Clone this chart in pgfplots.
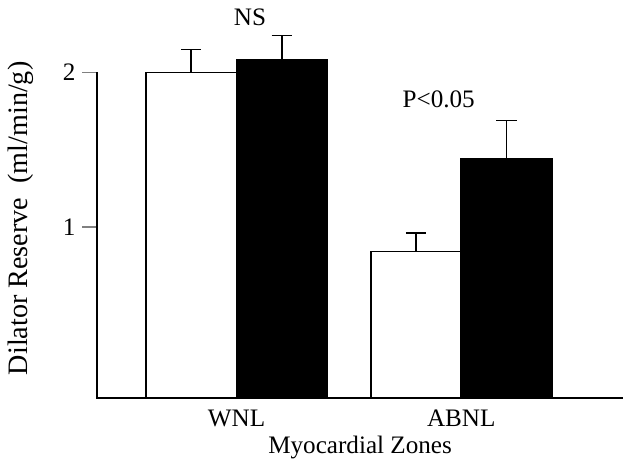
\documentclass[border=0pt]{standalone}
\usepackage{pgfplots}
\pgfplotsset{compat=1.18}
\usepackage{fontspec}
\setmainfont{Liberation Serif}
\begin{document}
\fontsize{25}{30}\selectfont
\begin{tikzpicture}
\begin{axis}[
  scale only axis,
  width=523pt, height=324pt,
  ybar=0pt, bar width=90pt,
  % the bars stand on the bottom of the axis, a little below zero
  y coord trafo/.code={\pgfmathparse{#1+0.11}},
  y coord inv trafo/.code={\pgfmathparse{#1-0.11}},
  ymin=-0.11, ymax=2,
  xmin=-0.62, xmax=1.72,
  axis line style={draw=none},
  tick pos=left,
  xtick=data, xticklabels={WNL,ABNL},
  xtick style={draw=none},
  ytick={1,2}, yticklabels={1,2},
  tick align=outside, major tick length=15pt,
  ytick style={line width=1.6pt},
  xticklabel style={yshift=12pt},
  yticklabel style={xshift=2pt},
  xlabel={Myocardial Zones},
  ylabel={Dilator Reserve\hspace{0.5em}(ml/min/g)},
  xlabel style={yshift=8pt, name=xl},
  ylabel style={font=\fontsize{28}{32}\selectfont, xshift=17pt, yshift=12pt},
  clip=false,
  error bars/y dir=plus, error bars/y explicit,
  error bars/error bar style={line width=1.8pt, black},
  error bars/error mark options={rotate=90, mark size=10pt, line width=1.8pt, black},
]
\addplot[draw=black, fill=white, line width=1.6pt] coordinates {
  (0, 2.00) +- (0, 0.15)
  (1, 0.84) +- (0, 0.12)
};
\addplot[draw=black, fill=black, line width=1.6pt] coordinates {
  (0, 2.08) +- (0, 0.16)
  (1, 1.44) +- (0, 0.25)
};
% left and bottom axis lines
\draw[line width=1.8pt, line cap=rect] (rel axis cs:0,1) -- (rel axis cs:0,0) -- (rel axis cs:1,0);
\coordinate (axR) at (rel axis cs:1,0);
\node (ns) at (axis cs:0.06,2.36) {NS};
\node at (axis cs:0.9,1.83) {P<0.05};
\end{axis}
% keep the page to the axis' right edge
\coordinate (bbSW) at (current bounding box.south west);
\pgfresetboundingbox
\path (bbSW |- xl.south) rectangle (axR |- ns.north);
\end{tikzpicture}
\end{document}
